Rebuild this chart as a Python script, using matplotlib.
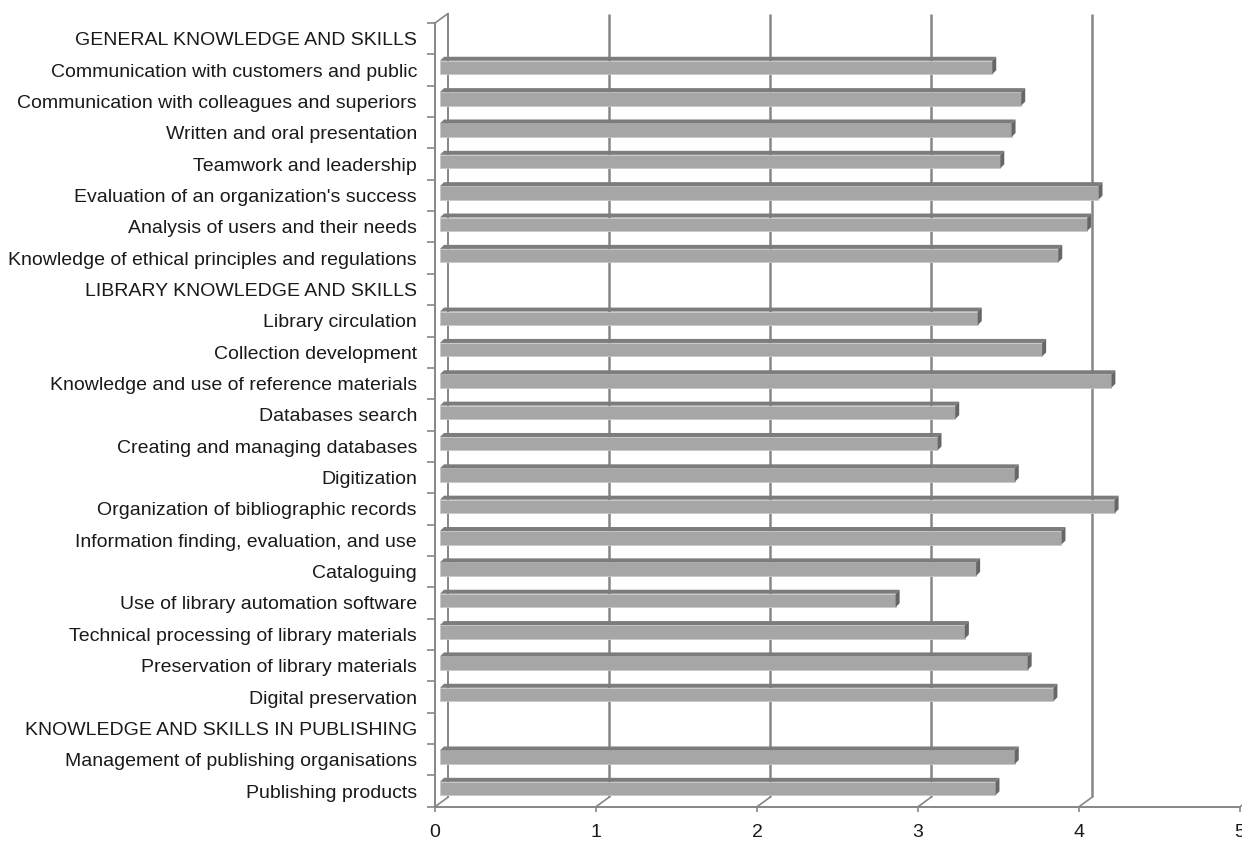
import numpy as np
import matplotlib
matplotlib.use("Agg")
import matplotlib.pyplot as plt
from matplotlib.patches import Polygon

# --- data (header rows have no bar) ---
categories = [
    "GENERAL KNOWLEDGE AND SKILLS",
    "Communication with customers and public",
    "Communication with colleagues and superiors",
    "Written and oral presentation",
    "Teamwork and leadership",
    "Evaluation of an organization's success",
    "Analysis of users and their needs",
    "Knowledge of ethical principles and regulations",
    "LIBRARY KNOWLEDGE AND SKILLS",
    "Library circulation",
    "Collection development",
    "Knowledge and use of reference materials",
    "Databases search",
    "Creating and managing databases",
    "Digitization",
    "Organization of bibliographic records",
    "Information finding, evaluation, and use",
    "Cataloguing",
    "Use of library automation software",
    "Technical processing of library materials",
    "Preservation of library materials",
    "Digital preservation",
    "KNOWLEDGE AND SKILLS IN PUBLISHING",
    "Management of publishing organisations",
    "Publishing products",
]
scores = [
    None, 3.43, 3.61, 3.55, 3.48, 4.09, 4.02, 3.84,
    None, 3.34, 3.74, 4.17, 3.20, 3.09, 3.57, 4.19, 3.86, 3.33, 2.83, 3.26, 3.65, 3.81,
    None, 3.57, 3.45,
]
xticks = [0, 1, 2, 3, 4, 5]

# --- figure / axes geometry (pixels) ---
W, H = 1242, 841
x0_px, x5_px = 435, 1240
top_px, bot_px = 23, 806.75
n = len(categories)

fig = plt.figure(figsize=(W / 100, H / 100), dpi=100)
ax = fig.add_axes([x0_px / W, (H - bot_px) / H, (x5_px - x0_px) / W, (bot_px - top_px) / H])
ax.set_xlim(0, 5)
ax.set_ylim(n, 0)

px_x = 5 / (x5_px - x0_px)          # data units per pixel, x
px_y = n / (bot_px - top_px)        # data units per pixel, y

# 3D-ish depth offsets
back_dx, back_dy = 13 * px_x, 9.5 * px_y
bar_dx, bar_dy = 4 * px_x, 4 * px_y
bar_left = 5 * px_x
bar_h = 13.5 * px_y
bar_shift = -2.5 * px_y

grid_c = "#868686"
front_c = "#a6a6a6"
top_c = "#7c7c7c"
cap_c = "#666666"
text_c = "#1a1a1a"

# back wall gridlines + floor slants
for k in xticks:
    lw = 1.8 if k > 0 else 1.4
    ax.plot([k + back_dx, k + back_dx], [-back_dy, n - back_dy], color=grid_c, lw=lw,
            clip_on=False, zorder=1, solid_capstyle="butt")
    ax.plot([k, k + back_dx], [n, n - back_dy], color=grid_c, lw=1.2, clip_on=False, zorder=1)
# left wall
ax.plot([0, 0], [0, n], color=grid_c, lw=1.4, clip_on=False, zorder=1)
ax.plot([0, back_dx], [0, -back_dy], color=grid_c, lw=1.2, clip_on=False, zorder=1)
# floor front edge
ax.plot([0, 5], [n, n], color=grid_c, lw=1.4, clip_on=False, zorder=1)

# bars
for i, v in enumerate(scores):
    if v is None:
        continue
    yc = i + 0.5 + bar_shift
    ax.barh(yc, v, left=bar_left, height=bar_h, color=front_c, edgecolor="#c8c8c8",
            linewidth=0.6, zorder=3)
    yt, yb = yc - bar_h / 2, yc + bar_h / 2
    x1 = bar_left + v
    ax.add_patch(Polygon([(bar_left, yt), (bar_left + bar_dx, yt - bar_dy),
                          (x1 + bar_dx, yt - bar_dy), (x1, yt)],
                         closed=True, facecolor=top_c, edgecolor="none", zorder=3))
    ax.add_patch(Polygon([(x1, yt), (x1 + bar_dx, yt - bar_dy),
                          (x1 + bar_dx, yb - bar_dy), (x1, yb)],
                         closed=True, facecolor=cap_c, edgecolor="none", zorder=3))

for s in ax.spines.values():
    s.set_visible(False)

ax.set_yticks(np.arange(n) + 0.5)
ax.set_yticklabels(categories, fontsize=14, family="Liberation Sans", color=text_c)
ax.set_yticks(np.arange(n + 1), minor=True)
ax.tick_params(axis="y", which="major", length=0, pad=13)
ax.tick_params(axis="y", which="minor", length=6, width=1.2, color=grid_c)

ax.set_xticks(xticks)
ax.set_xticklabels([str(t) for t in xticks], fontsize=14, family="Liberation Sans", color=text_c)
ax.tick_params(axis="x", length=3.6, width=1.2, color=grid_c, pad=8.5)

fig.savefig("out.png", dpi=100)
